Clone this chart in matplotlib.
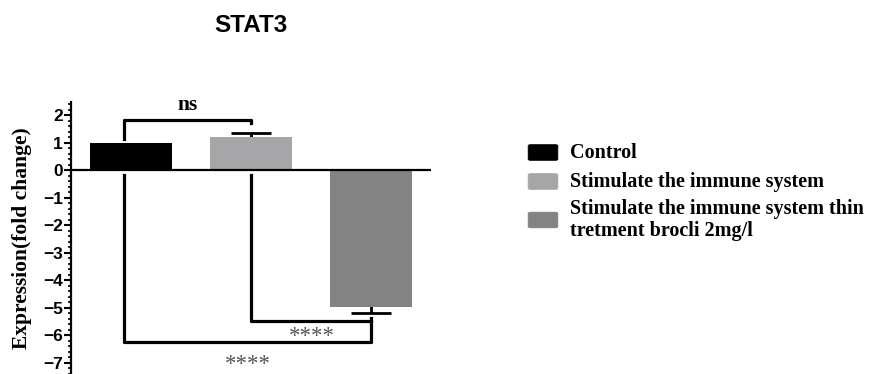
import matplotlib
matplotlib.use("Agg")
import matplotlib.pyplot as plt
from matplotlib.patches import FancyBboxPatch
from matplotlib.ticker import MultipleLocator

# Expression data (fold change, mean and SEM)
groups = ["Control", "Stimulate the immune system",
          "Stimulate the immune system thin\ntretment brocli 2mg/l"]
means = [1.0, 1.2, -4.95]
sems = [0.0, 0.18, 0.22]
colors = ["#000000", "#a6a6a9", "#838383"]
yticks = [2, 1, 0, -1, -2, -3, -4, -5, -6, -7]
title = "STAT3"
ylabel = "Expression(fold change)"

serif = "Liberation Serif"
sans = "Liberation Sans"

fig = plt.figure(figsize=(8.73, 3.74), dpi=100)
ax = fig.add_axes([71 / 873, 0.0, 360 / 873, (374 - 101.7) / 374])

x = list(range(len(means)))
ax.bar(x, means, width=0.69, color=colors, zorder=3)

# symmetric SEM bars; the inner half is hidden behind each bar
for xi, m, s in zip(x, means, sems):
    if s == 0:
        continue
    ax.errorbar(xi, m, yerr=s, fmt="none", ecolor="black",
                elinewidth=2.0, capsize=14.4, capthick=2.0, zorder=2)

ax.axhline(0, color="black", lw=1.6, zorder=4)

ax.set_xlim(-0.5, 2.5)
ax.set_ylim(-7.4, 2.5)
ax.set_xticks([])
ax.set_yticks(yticks)
ax.yaxis.set_minor_locator(MultipleLocator(0.2))
for s in ("top", "right", "bottom"):
    ax.spines[s].set_visible(False)
ax.spines["left"].set_linewidth(1.6)
ax.tick_params(axis="y", which="major", length=5, width=1.5, pad=1)
ax.tick_params(axis="y", which="minor", length=2.5, width=1.2)
for lab in ax.get_yticklabels():
    lab.set_fontfamily(sans)
    lab.set_fontweight("bold")
    lab.set_fontsize(12.5)

fig.text(21.7 / 873, 1 - 238 / 374, ylabel, rotation=90, ha="center",
         va="center", fontfamily=serif, fontweight="bold", fontsize=15.5)

# significance brackets
lw_b = 2.3
xl = x[0] - 0.06
ax.plot([xl, xl, x[1], x[1]], [1.15, 1.84, 1.84, 1.73], color="black",
        lw=lw_b, solid_joinstyle="round", zorder=5)
ax.text((xl + x[1]) / 2, 2.0, "ns", ha="center", va="bottom",
        fontfamily=serif, fontweight="bold", fontsize=15.5)

ax.plot([xl, xl, x[2], x[2]], [-0.16, -6.23, -6.23, -5.35], color="black",
        lw=lw_b, solid_joinstyle="round", zorder=5)
ax.plot([x[1], x[1], x[2]], [-0.16, -5.49, -5.49], color="black",
        lw=lw_b, solid_joinstyle="round", zorder=5)
ax.text(1.51, -6.24, "****", ha="center", va="baseline", color="#555555",
        fontfamily=serif, fontsize=16.5)
ax.text(0.97, -7.25, "****", ha="center", va="baseline", color="#555555",
        fontfamily=serif, fontsize=16.5)

fig.text(250.7 / 873, 1 - 25 / 374, title, ha="center", va="center",
         fontfamily=sans, fontweight="bold", fontsize=17.5)

# legend
rows = [(153.0, 152.5), (182.0, 181.5), (220.0, 220.0)]
for (ty, py), lab, c in zip(rows, groups, colors):
    fig.patches.append(FancyBboxPatch(
        (529 / 873, 1 - (py + 7.5) / 374), 28 / 873, 15 / 374,
        boxstyle="round,pad=0.001,rounding_size=0.003",
        transform=fig.transFigure, facecolor=c, edgecolor=c, lw=0.5))
    fig.text(570 / 873, 1 - ty / 374, lab, ha="left", va="center",
             fontfamily=serif, fontweight="bold", fontsize=14.5,
             linespacing=1.12)

fig.savefig("out.png", dpi=100)
